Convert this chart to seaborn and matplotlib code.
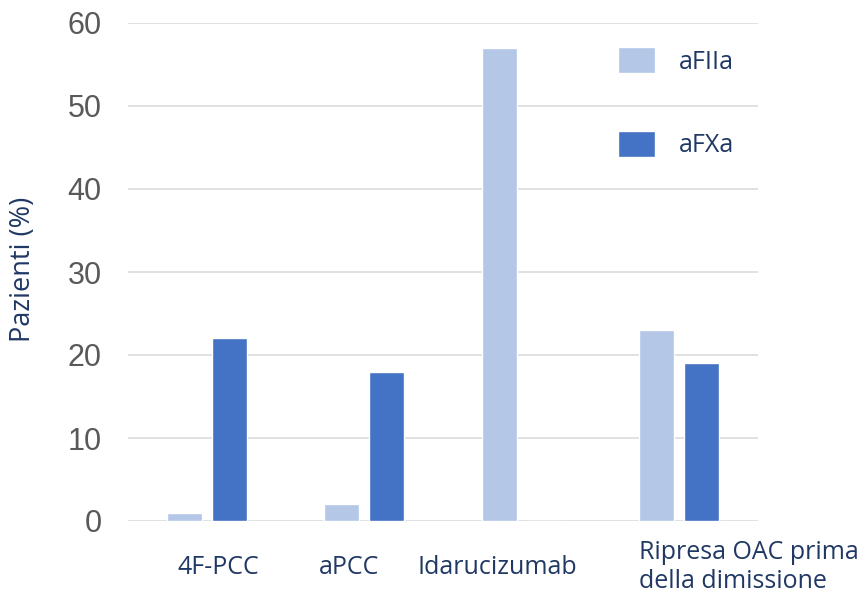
import pandas as pd
import matplotlib
matplotlib.use("Agg")
import matplotlib.pyplot as plt
import matplotlib.transforms as mtransforms
import seaborn as sns

# data
categories = ["4F-PCC", "aPCC", "Idarucizumab", "Ripresa OAC prima\ndella dimissione"]
afiia = [1, 2, 57, 23]
afxa = [22, 18, 0, 19]
series_names = ["aFIIa", "aFXa"]
colors = ["#B4C7E7", "#4472C4"]
y_ticks = [0, 10, 20, 30, 40, 50, 60]

navy = "#203864"
grey = "#595959"

df = pd.DataFrame({
    "categoria": categories * 2,
    "serie": [series_names[0]] * len(categories) + [series_names[1]] * len(categories),
    "valore": afiia + afxa,
})

sns.set_theme(style="white")
plt.rcParams["font.family"] = ["Open Sans", "DejaVu Sans"]

fig = plt.figure(figsize=(8.64, 6.05), dpi=100)
ax = fig.add_axes([128 / 864, 84 / 605, 630 / 864, 498 / 605])

sns.barplot(data=df, x="categoria", y="valore", hue="serie", order=categories,
            hue_order=series_names, palette=colors, width=0.57, gap=0.22,
            saturation=1, ax=ax, legend=True)

ax.set_ylim(0, 60)
ax.set_xlim(-0.5, len(categories) - 0.5)
ax.set_yticks(y_ticks)
ax.set_yticklabels([str(v) for v in y_ticks], fontsize=22, color=grey,
                   family=["Liberation Sans", "DejaVu Sans"])
ax.tick_params(axis="y", length=0, pad=19)
ax.grid(axis="y", color="#D9D9D9", linewidth=1.1)
ax.set_axisbelow(True)
for s in ax.spines.values():
    s.set_visible(False)

# category labels, placed like the text boxes in the original
ax.set_xticks([])
ax.set_xlabel("")
trans = mtransforms.blended_transform_factory(ax.transData, ax.transAxes)
offsets = [0.076, -0.096, -0.153, -0.255]
aligns = ["center", "center", "center", "left"]
for i, (lab, off, ha) in enumerate(zip(categories, offsets, aligns)):
    ax.text(i + off, -0.093, lab, transform=trans, ha=ha, va="center",
            fontsize=18, color=navy, multialignment="left", linespacing=1.2)

ax.set_ylabel("Pazienti (%)", fontsize=19.5, color=navy)
ax.yaxis.set_label_coords(-0.145, 0.505)

handles, labels = ax.get_legend_handles_labels()
ax.legend(handles, labels, loc="upper left", bbox_to_anchor=(618 / 864, 1 - 47 / 605),
          bbox_transform=fig.transFigure, frameon=False, fontsize=18,
          labelcolor=navy, borderpad=0, borderaxespad=0, handlelength=1.48,
          handleheight=1.25, handletextpad=0.96, labelspacing=2.25, title=None)

fig.savefig("out.png", dpi=100)
